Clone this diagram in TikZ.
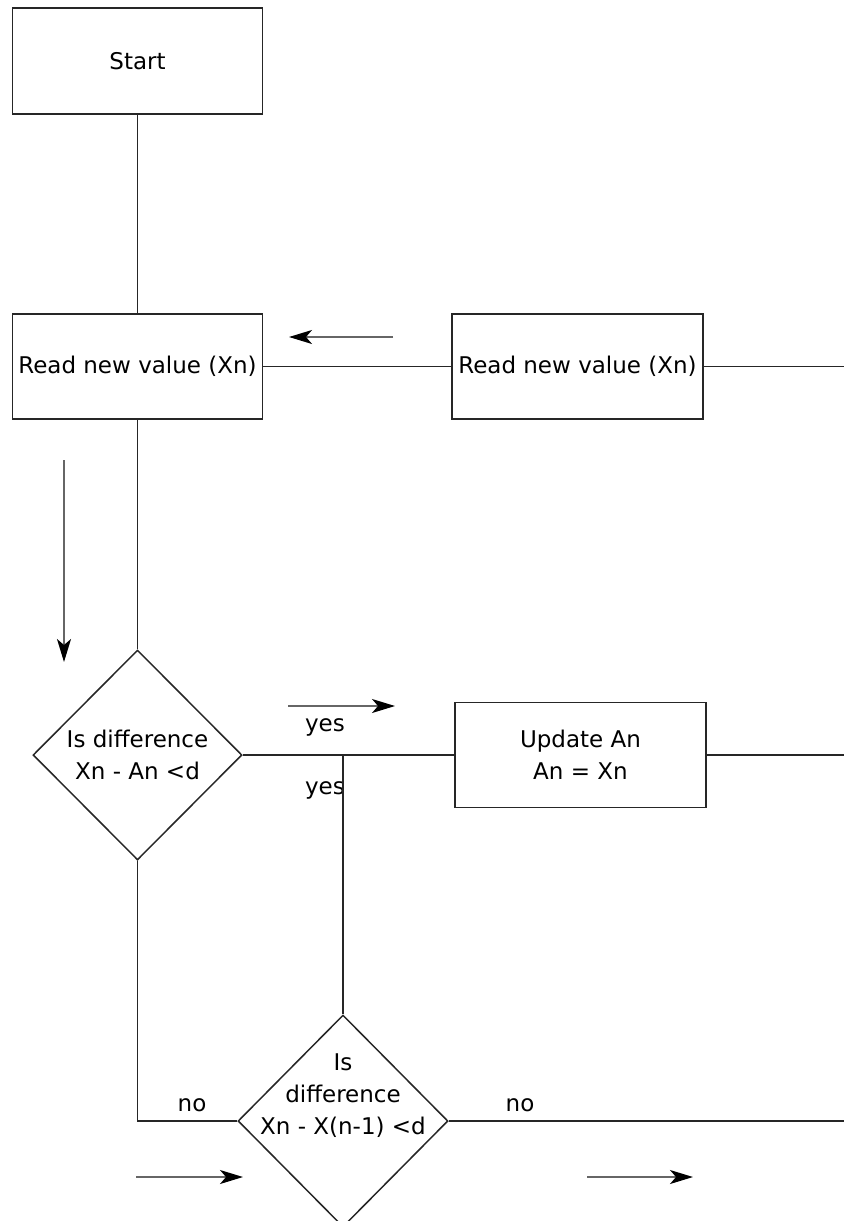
\documentclass[tikz,border=0pt]{standalone}
\usepackage{fontspec}
\setmainfont{DejaVu Sans}
\usetikzlibrary{shapes.geometric,arrows.meta}
\begin{document}
\begin{tikzpicture}[x=1pt,y=-1pt,
  font=\fontsize{23}{32}\selectfont,
  box/.style={draw=black!85,line width=1.5pt,rectangle,inner sep=0pt,align=center},
  dia/.style={draw=black!85,line width=1.5pt,diamond,aspect=1,inner sep=0pt,align=center},
  conn/.style={draw=black!85,line width=1.5pt},
  flow/.style={draw=black!60,line width=1.5pt,-{Stealth[length=23pt,width=14pt,inset=6pt,color=black]}},
  lbl/.style={inner sep=0pt,align=center}]
\useasboundingbox (0,0) rectangle (844,1221);
\fill[white] (0,0) rectangle (844,1221);
% nodes
\node[box,minimum width=250pt,minimum height=106pt] (start) at (137.5,61) {Start};
\node[box,minimum width=250pt,minimum height=105pt] (read1) at (137.5,366.5) {Read new value (Xn)};
\node[box,minimum width=251pt,minimum height=105pt] (read2) at (577.5,366.5) {Read new value (Xn)};
\node[dia,minimum width=209pt,minimum height=210pt] (diam1) at (137.5,755) {Is difference\\Xn - An <d};
\node[box,minimum width=251pt,minimum height=105pt] (upd) at (580.5,755) {Update An\\An = Xn};
\node[dia,minimum width=210pt,minimum height=212pt] (diam2) at (343,1121) {};
\node[lbl] (d2text) at (343,1096) {Is\\difference\\Xn - X(n-1) <d};
% labels
\node[lbl] (yes1) at (325,727) {yes};
\node[lbl] (yes2) at (325,790) {yes};
\node[lbl] (no1) at (192,1105) {no};
\node[lbl] (no2) at (520,1105) {no};
% free ends
\coordinate (e1) at (844,366.5);
\coordinate (e2) at (844,755);
\coordinate (e3) at (844,1121);
\coordinate (j) at (343,755);
% connectors
\draw[conn] (start.south) -- (read1.north);
\draw[conn] (read1.east) -- (read2.west);
\draw[conn] (read2.east) -- (e1);
\draw[conn] (read1.south) -- (diam1.north);
\draw[conn] (diam1.east) -- (upd.west);
\draw[conn] (upd.east) -- (e2);
\draw[conn] (j) -- (diam2.north);
\draw[conn] (diam1.south) |- (diam2.west);
\draw[conn] (diam2.east) -- (e3);
% direction arrows
\coordinate (a1s) at (393,337); \coordinate (a1e) at (289,337);
\coordinate (a2s) at (64,460);  \coordinate (a2e) at (64,662);
\coordinate (a3s) at (288,706); \coordinate (a3e) at (395,706);
\coordinate (a4s) at (136,1177); \coordinate (a4e) at (243,1177);
\coordinate (a5s) at (587,1177); \coordinate (a5e) at (693,1177);
\draw[flow] (a1s) -- (a1e);
\draw[flow] (a2s) -- (a2e);
\draw[flow] (a3s) -- (a3e);
\draw[flow] (a4s) -- (a4e);
\draw[flow] (a5s) -- (a5e);
\end{tikzpicture}
\end{document}
